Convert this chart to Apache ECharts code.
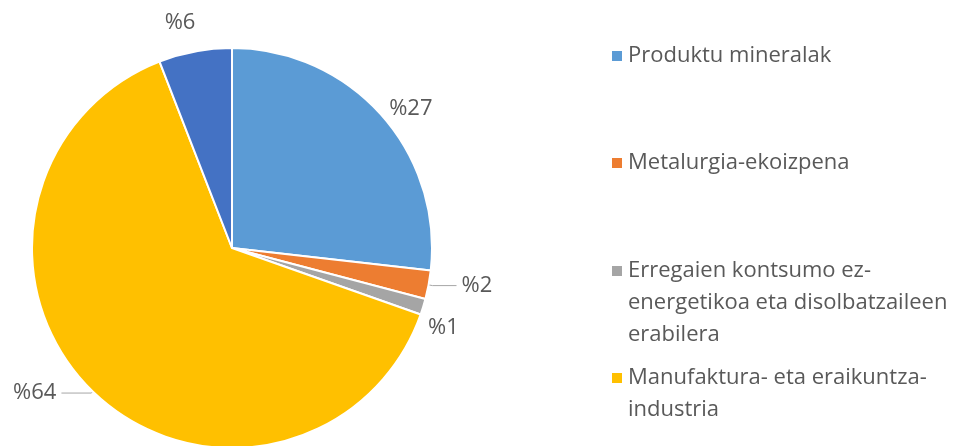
<!DOCTYPE html>
<html>
<head>
<meta charset="utf-8">
<script src="https://cdn.jsdelivr.net/npm/echarts@6/dist/echarts.min.js"></script>
<style>html,body{margin:0;padding:0;background:#fff}#c{width:958px;height:446px}</style>
</head>
<body>
<div id="c"></div>
<script>
var categories = [
  'Produktu mineralak',
  'Metalurgia-ekoizpena',
  'Erregaien kontsumo ez-energetikoa eta disolbatzaileen erabilera',
  'Manufaktura- eta eraikuntza-industria',
  'Beste batzuk'
];
var legendLines = [
  ['Produktu mineralak'],
  ['Metalurgia-ekoizpena'],
  ['Erregaien kontsumo ez-', 'energetikoa eta disolbatzaileen', 'erabilera'],
  ['Manufaktura- eta eraikuntza-', 'industria']
];
var values = [26.8, 2.3, 1.3, 63.7, 5.9];
var colors = ['#5B9BD5', '#ED7D31', '#A5A5A5', '#FFC000', '#4472C4'];

var txt = '#595959';
var font = 'Open Sans';
var fs = 22;
var lh = 32;
var legendTops = [56, 163, 271, 378];

var legends = legendLines.map(function (lines, i) {
  var n = lines.length;
  var H = (2 * n - 1) * lh;
  var pre = [];
  for (var k = 0; k < n - 1; k++) pre.push(' ');
  var text = pre.concat(lines).join('\n');
  return {
    data: [categories[i]],
    orient: 'vertical',
    left: 610,
    top: legendTops[i] - H / 2,
    padding: 0,
    itemWidth: 12,
    itemHeight: 12,
    icon: 'rect',
    selectedMode: false,
    formatter: function () { return text; },
    textStyle: {color: txt, fontFamily: font, fontSize: fs, lineHeight: lh}
  };
});

var labelCfg = [
  {len: 4, len2: 4, line: false},
  {len: 4, len2: 24, line: true},
  {len: 4, len2: 4, line: false},
  {len: 2, len2: 30, line: true},
  {len: 4, len2: 4, line: false}
];
var labelShift = [[-4, -3], [0, 0], [-8, 20], [0, 0], [10, -25]];

var data = categories.map(function (c, i) {
  return {
    name: c,
    value: values[i],
    itemStyle: {color: colors[i]},
    label: {show: true},
    labelLine: {show: labelCfg[i].line, length: labelCfg[i].len, length2: labelCfg[i].len2}
  };
});

var chart = echarts.init(document.getElementById('c'));
chart.setOption({
  animation: false,
  legend: legends,
  series: [{
    type: 'pie',
    center: [232, 248],
    radius: 200,
    startAngle: 90,
    clockwise: true,
    avoidLabelOverlap: false,
    itemStyle: {borderColor: '#fff', borderWidth: 2},
    label: {
      position: 'outside',
      color: txt, fontFamily: font, fontSize: fs,
      formatter: function (p) { return '%' + Math.round(p.value); }
    },
    labelLine: {lineStyle: {color: '#A6A6A6', width: 1}},
    labelLayout: function (p) {
      var s = labelShift[p.dataIndex];
      return {dx: s[0], dy: s[1]};
    },
    data: data
  }]
});
</script>
</body>
</html>
